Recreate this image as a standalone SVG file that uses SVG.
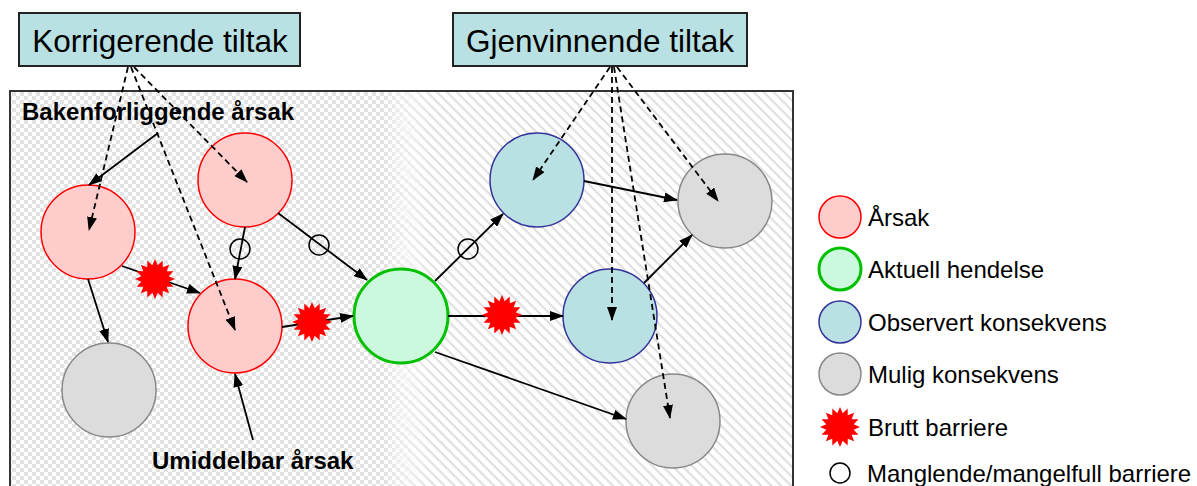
<svg xmlns="http://www.w3.org/2000/svg" width="1197" height="486" viewBox="0 0 1197 486">
<defs>
<style>
.box{fill:#b9e0e3;stroke:#222;stroke-width:2}
.big{font-family:"Liberation Sans",Arial,sans-serif;font-size:31.5px;fill:#000;text-anchor:middle}
.lbl{font-family:"Liberation Sans",Arial,sans-serif;font-size:24px;font-weight:bold;fill:#000}
.leg{font-family:"Liberation Sans",Arial,sans-serif;font-size:24px;fill:#000}
.cause{fill:#ffcccc;stroke:#ff0000;stroke-width:1.5}
.event{fill:#ccf9dd;stroke:#00c000;stroke-width:3}
.obs{fill:#b9e0e3;stroke:#333399;stroke-width:1.5}
.pos{fill:#dcdcdc;stroke:#888;stroke-width:1.5}
.sol{fill:none;stroke:#000;stroke-width:1.8}
.dash{fill:none;stroke:#000;stroke-width:1.8;stroke-dasharray:6 4}
.miss{fill:none;stroke:#000;stroke-width:1.5}
.star{fill:#ff0000}
</style>
<marker id="ah" markerUnits="userSpaceOnUse" markerWidth="14" markerHeight="10" refX="13" refY="5" orient="auto">
<path d="M0,0 L14,5 L0,10 z" fill="#000"/>
</marker>
<pattern id="chk" width="8" height="8" patternUnits="userSpaceOnUse">
<rect width="8" height="8" fill="#fff"/>
<rect width="4" height="4" fill="#e2e2e2"/>
<rect x="4" y="4" width="4" height="4" fill="#e2e2e2"/>
</pattern>
<pattern id="hat" width="7" height="7" patternUnits="userSpaceOnUse" patternTransform="rotate(45)">
<rect width="7" height="7" fill="#fff"/>
<rect width="7" height="2.2" fill="#e0e0e0"/>
</pattern>
<linearGradient id="fadeL" x1="0" x2="1" y1="0" y2="0">
<stop offset="0" stop-color="#fff"/>
<stop offset="1" stop-color="#000"/>
</linearGradient>
<linearGradient id="fadeR" x1="0" x2="1" y1="0" y2="0">
<stop offset="0" stop-color="#000"/>
<stop offset="1" stop-color="#fff"/>
</linearGradient>
<mask id="mL" maskUnits="userSpaceOnUse" x="0" y="0" width="1197" height="486">
<rect x="0" y="0" width="385" height="486" fill="#fff"/>
<rect x="385" y="0" width="45" height="486" fill="url(#fadeL)"/>
</mask>
<mask id="mR" maskUnits="userSpaceOnUse" x="0" y="0" width="1197" height="486">
<rect x="385" y="0" width="45" height="486" fill="url(#fadeR)"/>
<rect x="430" y="0" width="767" height="486" fill="#fff"/>
</mask>
<polygon id="starShape" points="20,0 13.73,2.73 18.48,7.65 11.64,7.78 14.14,14.14 7.78,11.64 7.65,18.48 2.73,13.73 0,20 -2.73,13.73 -7.65,18.48 -7.78,11.64 -14.14,14.14 -11.64,7.78 -18.48,7.65 -13.73,2.73 -20,0 -13.73,-2.73 -18.48,-7.65 -11.64,-7.78 -14.14,-14.14 -7.78,-11.64 -7.65,-18.48 -2.73,-13.73 0,-20 2.73,-13.73 7.65,-18.48 7.78,-11.64 14.14,-14.14 11.64,-7.78 18.48,-7.65 13.73,-2.73"/>
</defs>
<rect width="1197" height="486" fill="#fff"/>

<g id="background">
<rect x="10" y="91" width="783" height="400" fill="url(#chk)" mask="url(#mL)"/>
<rect x="10" y="91" width="783" height="400" fill="url(#hat)" mask="url(#mR)"/>
<rect x="10" y="91" width="783" height="400" fill="none" stroke="#333" stroke-width="2"/>
</g>

<g id="korrigerende">
<rect class="box" x="19" y="13" width="281" height="53"/>
<text class="big" x="160" y="52">Korrigerende tiltak</text>
</g>
<g id="gjenvinnende">
<rect class="box" x="453" y="13" width="294" height="53"/>
<text class="big" x="600" y="52">Gjenvinnende tiltak</text>
</g>

<g id="label-bakenforliggende"><text class="lbl" x="22" y="120">Bakenforliggende årsak</text></g>
<g id="label-umiddelbar"><text class="lbl" x="152" y="469">Umiddelbar årsak</text></g>

<g id="nodes">
<g id="cause-a"><circle class="cause" cx="88" cy="232" r="47"/></g>
<g id="cause-b"><circle class="cause" cx="245" cy="180" r="47"/></g>
<g id="cause-c"><circle class="cause" cx="235" cy="326" r="47"/></g>
<g id="possible-d"><circle class="pos" cx="109" cy="390" r="47"/></g>
<g id="event-e"><circle class="event" cx="401" cy="316" r="47"/></g>
<g id="observed-f"><circle class="obs" cx="537" cy="180" r="47"/></g>
<g id="possible-g"><circle class="pos" cx="725" cy="201" r="47"/></g>
<g id="observed-h"><circle class="obs" cx="610" cy="316" r="47"/></g>
<g id="possible-i"><circle class="pos" cx="673" cy="421" r="47"/></g>
</g>

<g id="connectors">
<line class="sol" x1="158" y1="133" x2="89" y2="185" marker-end="url(#ah)"/>
<line class="sol" x1="88" y1="279" x2="108" y2="342" marker-end="url(#ah)"/>
<line class="sol" x1="122" y1="266" x2="200" y2="293" marker-end="url(#ah)"/>
<line class="sol" x1="245" y1="227" x2="235" y2="279" marker-end="url(#ah)"/>
<line class="sol" x1="278" y1="213" x2="367" y2="280" marker-end="url(#ah)"/>
<line class="sol" x1="282" y1="327" x2="353" y2="316" marker-end="url(#ah)"/>
<line class="sol" x1="253" y1="440" x2="235" y2="374" marker-end="url(#ah)"/>
<line class="sol" x1="435" y1="281" x2="503" y2="214" marker-end="url(#ah)"/>
<line class="sol" x1="448" y1="316" x2="563" y2="316" marker-end="url(#ah)"/>
<line class="sol" x1="435" y1="352" x2="626" y2="419" marker-end="url(#ah)"/>
<line class="sol" x1="584" y1="181" x2="677" y2="200" marker-end="url(#ah)"/>
<line class="sol" x1="644" y1="283" x2="692" y2="235" marker-end="url(#ah)"/>

<line class="dash" x1="128" y1="67" x2="89" y2="230" marker-end="url(#ah)"/>
<line class="dash" x1="131" y1="67" x2="235" y2="330" marker-end="url(#ah)"/>
<line class="dash" x1="134" y1="67" x2="247" y2="182" marker-end="url(#ah)"/>

<line class="dash" x1="610" y1="67" x2="533" y2="180" marker-end="url(#ah)"/>
<line class="dash" x1="612" y1="67" x2="612" y2="320" marker-end="url(#ah)"/>
<line class="dash" x1="614" y1="67" x2="670" y2="418" marker-end="url(#ah)"/>
<line class="dash" x1="617" y1="67" x2="718" y2="201" marker-end="url(#ah)"/>

<circle class="miss" cx="240" cy="249" r="10"/>
<circle class="miss" cx="319" cy="245" r="10"/>
<circle class="miss" cx="468" cy="249" r="10"/>
<use href="#starShape" class="star" x="155" y="279"/>
<use href="#starShape" class="star" x="312" y="322"/>
<use href="#starShape" class="star" x="502" y="315"/>
</g>

<g id="legend">
<circle class="cause" cx="840" cy="217" r="21"/>
<text class="leg" x="868" y="226">Årsak</text>
<circle class="event" cx="840" cy="269" r="21"/>
<text class="leg" x="868" y="278">Aktuell hendelse</text>
<circle class="obs" cx="840" cy="322" r="21"/>
<text class="leg" x="868" y="331">Observert konsekvens</text>
<circle class="pos" cx="840" cy="374" r="21"/>
<text class="leg" x="868" y="383">Mulig konsekvens</text>
<use href="#starShape" class="star" x="840" y="427"/>
<text class="leg" x="868" y="436">Brutt barriere</text>
<circle class="miss" cx="840" cy="473" r="10"/>
<text class="leg" x="867" y="482">Manglende/mangelfull barriere</text>
</g>
</svg>
